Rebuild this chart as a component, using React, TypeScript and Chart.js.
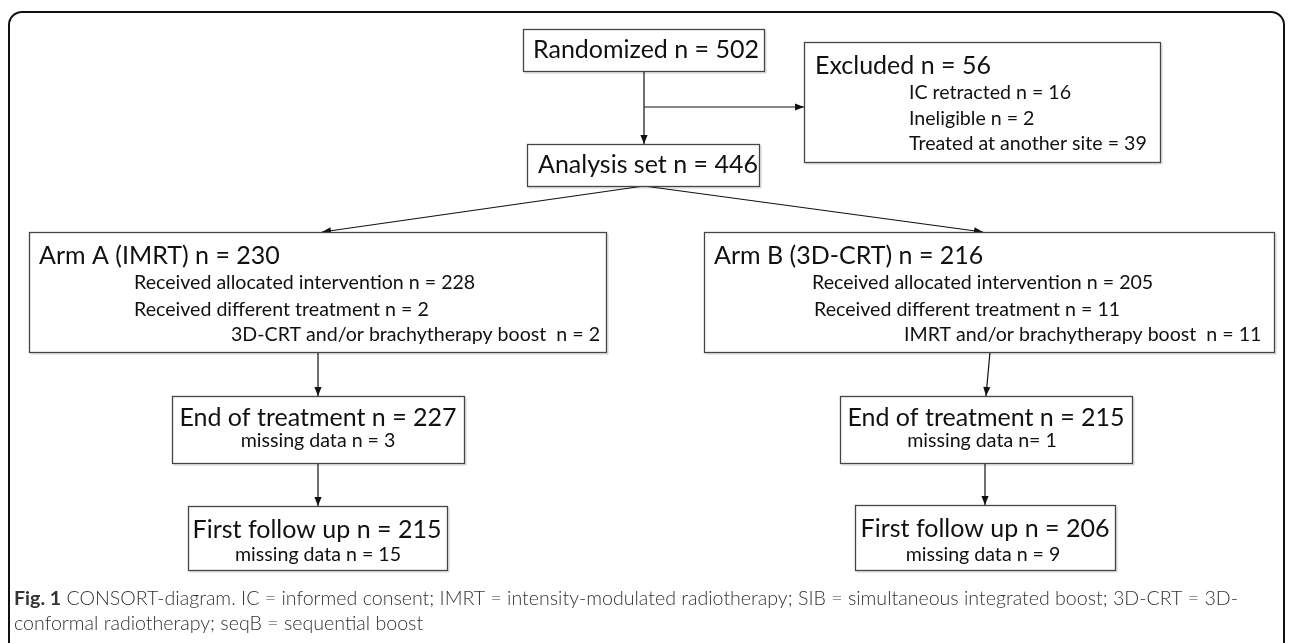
import React, { useEffect, useRef } from "react";
import { Chart, registerables } from "chart.js";
Chart.register(...registerables);

// ---- content (data) ----
const nodeIds = ["rand", "excl", "anal", "armA", "armB", "endA", "endB", "fuA", "fuB"];
const nodeTitles = [
  "Randomized n = 502",
  "Excluded n = 56",
  "Analysis set n = 446",
  "Arm A (IMRT) n = 230",
  "Arm B (3D-CRT) n = 216",
  "End of treatment n = 227",
  "End of treatment n = 215",
  "First follow up n = 215",
  "First follow up n = 206",
];
const nodeDetails: string[][] = [
  [],
  ["IC retracted n = 16", "Ineligible n = 2", "Treated at another site = 39"],
  [],
  ["Received allocated intervention n = 228", "Received different treatment n = 2", "3D-CRT and/or brachytherapy boost  n = 2"],
  ["Received allocated intervention n = 205", "Received different treatment n = 11", "IMRT and/or brachytherapy boost  n = 11"],
  ["missing data n = 3"],
  ["missing data n= 1"],
  ["missing data n = 15"],
  ["missing data n = 9"],
];
const edgeFrom = ["rand", "rand", "anal", "anal", "armA", "armB", "endA", "endB"];
const edgeTo = ["anal", "excl", "armA", "armB", "endA", "endB", "fuA", "fuB"];
const captionBold = "Fig. 1";
const captionLines = [
  " CONSORT-diagram. IC = informed consent; IMRT = intensity-modulated radiotherapy; SIB = simultaneous integrated boost; 3D-CRT = 3D-",
  "conformal radiotherapy; seqB = sequential boost",
];

// ---- layout (positions in diagram units) ----
const boxRects: number[][] = [
  [523, 29, 764, 71],
  [804, 42, 1160, 162],
  [527, 144, 759, 186],
  [29, 232, 606, 352],
  [704, 232, 1274, 352],
  [172, 396, 464, 463],
  [840, 396, 1132, 463],
  [188, 506, 447, 570],
  [855, 505, 1115, 570],
];
const titleAnchor: (number | string)[][] = [
  [533, 50, "left"],
  [815, 66, "left"],
  [538, 165, "left"],
  [39, 256, "left"],
  [714, 256, "left"],
  [318, 418, "center"],
  [986, 418, "center"],
  [317, 530, "center"],
  [985, 529, "center"],
];
const detailAnchor: number[][][] = [
  [],
  [[909, 93], [909, 119], [909, 144]],
  [],
  [[134, 283], [134, 310], [231, 335]],
  [[812, 283], [814, 310], [904, 335]],
  [[318, 441]],
  [[982, 441]],
  [[318, 555]],
  [[983, 555]],
];
const edgeRoutes: number[][][] = [
  [[644, 71], [644, 144]],
  [[644, 107], [804, 107]],
  [[644, 186], [322, 232]],
  [[644, 186], [983, 232]],
  [[318, 352], [318, 396]],
  [[990, 352], [986, 396]],
  [[318, 463], [318, 506]],
  [[985, 463], [985, 505]],
];
const frameRect = [9, 12, 1284, 680];
const captionY = [599, 624];
const captionX = 14;

const W = 1292;
const H = 643;

const diagramPlugin = {
  id: "diagram",
  afterDatasetsDraw(chart: any) {
    const ctx: CanvasRenderingContext2D = chart.ctx;
    const xs = chart.scales.x;
    const ys = chart.scales.y;
    const px = (v: number) => xs.getPixelForValue(v);
    const py = (v: number) => ys.getPixelForValue(v);
    ctx.save();

    // outer frame
    const fx0 = px(frameRect[0]), fy0 = py(frameRect[1]), fx1 = px(frameRect[2]), fy1 = py(frameRect[3]);
    ctx.beginPath();
    (ctx as any).roundRect(fx0, fy0, fx1 - fx0, fy1 - fy0, 13);
    ctx.lineWidth = 2;
    ctx.strokeStyle = "#111";
    ctx.stroke();

    // arrowheads
    edgeRoutes.forEach((route) => {
      const a = route[route.length - 2];
      const b = route[route.length - 1];
      const x1 = px(a[0]), y1 = py(a[1]), x2 = px(b[0]), y2 = py(b[1]);
      const ang = Math.atan2(y2 - y1, x2 - x1);
      const len = 9, wid = 3.6;
      ctx.beginPath();
      ctx.moveTo(x2, y2);
      ctx.lineTo(x2 - len * Math.cos(ang) + wid * Math.sin(ang), y2 - len * Math.sin(ang) - wid * Math.cos(ang));
      ctx.lineTo(x2 - len * Math.cos(ang) - wid * Math.sin(ang), y2 - len * Math.sin(ang) + wid * Math.cos(ang));
      ctx.closePath();
      ctx.fillStyle = "#111";
      ctx.fill();
    });

    // boxes
    nodeIds.forEach((id, i) => {
      const r = boxRects[i];
      const x0 = px(r[0]), y0 = py(r[1]), x1 = px(r[2]), y1 = py(r[3]);
      ctx.fillStyle = "#ffffff";
      ctx.fillRect(x0, y0, x1 - x0, y1 - y0);
      // faint shadow
      ctx.strokeStyle = "rgba(0,0,0,0.18)";
      ctx.lineWidth = 1;
      ctx.beginPath();
      ctx.moveTo(Math.round(x0) + 1.5, Math.round(y1) + 2);
      ctx.lineTo(Math.round(x1) + 2, Math.round(y1) + 2);
      ctx.lineTo(Math.round(x1) + 2, Math.round(y0) + 1.5);
      ctx.stroke();
      ctx.lineWidth = 1.3;
      ctx.strokeStyle = "#444";
      ctx.strokeRect(Math.round(x0) + 0.5, Math.round(y0) + 0.5, x1 - x0, y1 - y0);

      const ta = titleAnchor[i];
      ctx.fillStyle = "#111";
      ctx.textBaseline = "middle";
      ctx.textAlign = ta[2] as CanvasTextAlign;
      ctx.font = "25px Lato, 'Open Sans', sans-serif";
      ctx.fillText(nodeTitles[i], px(ta[0] as number), py(ta[1] as number));

      ctx.font = "19.6px Lato, 'Open Sans', sans-serif";
      nodeDetails[i].forEach((t, k) => {
        const d = detailAnchor[i][k];
        ctx.textAlign = ta[2] === "center" ? "center" : "left";
        ctx.fillText(t, px(d[0]), py(d[1]));
      });
    });

    // caption
    ctx.textAlign = "left";
    ctx.textBaseline = "middle";
    ctx.fillStyle = "#333";
    ctx.font = "bold 19.6px Lato, 'Open Sans', sans-serif";
    const bx = px(captionX);
    ctx.fillText(captionBold, bx, py(captionY[0]));
    const bw = ctx.measureText(captionBold).width;
    ctx.font = "300 19.6px Lato, 'Open Sans', sans-serif";
    ctx.fillText(captionLines[0], bx + bw, py(captionY[0]));
    ctx.fillText(captionLines[1], bx, py(captionY[1]));
    ctx.restore();
  },
};

export default function App() {
  const ref = useRef<HTMLCanvasElement>(null);
  useEffect(() => {
    document.body.style.margin = "0";
    const chart = new Chart(ref.current!, {
      type: "scatter",
      data: {
        datasets: edgeRoutes.map((route, i) => ({
          label: edgeFrom[i] + "-" + edgeTo[i],
          data: route.map((p) => ({ x: p[0], y: p[1] })),
          showLine: true,
          borderColor: "#111",
          borderWidth: 1.2,
          pointRadius: 0,
          fill: false,
        })),
      },
      options: {
        animation: false,
        responsive: true,
        maintainAspectRatio: false,
        layout: { padding: 0 },
        plugins: { legend: { display: false }, tooltip: { enabled: false } },
        scales: {
          x: { type: "linear", min: 0, max: W, display: false },
          y: { type: "linear", min: 0, max: H, reverse: true, display: false },
        },
      },
      plugins: [diagramPlugin],
    });
    return () => chart.destroy();
  }, []);
  return (
    <div style={{ position: "fixed", left: 0, top: 0, width: W, height: H, background: "#fff" }}>
      <canvas ref={ref} />
    </div>
  );
}
